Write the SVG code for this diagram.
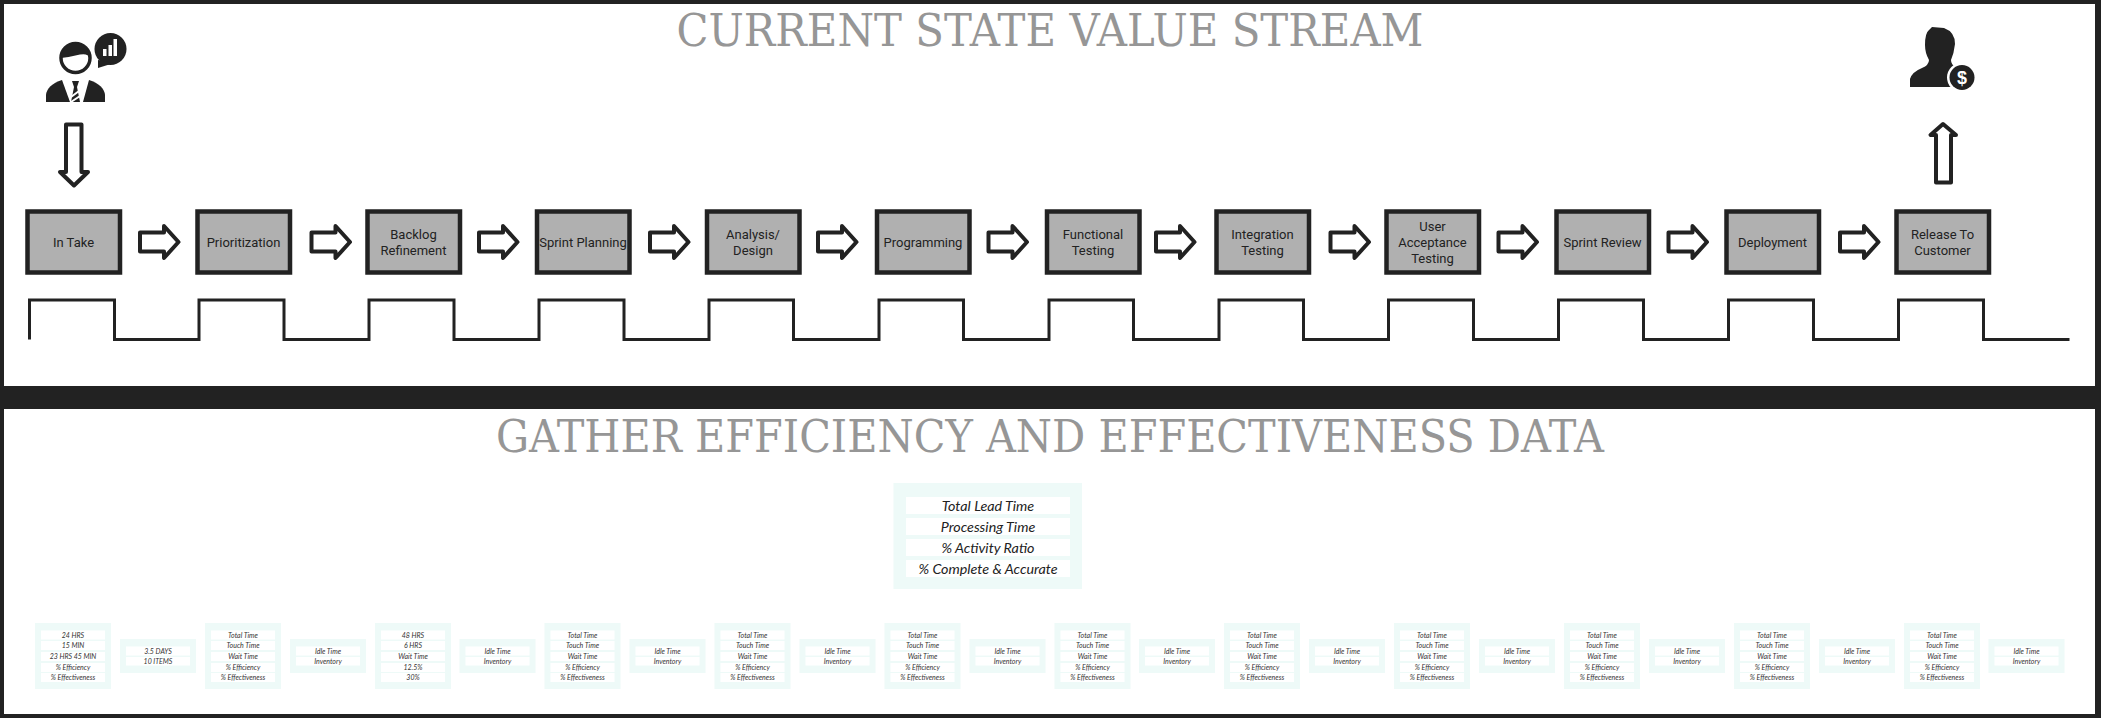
<svg xmlns="http://www.w3.org/2000/svg" width="2101" height="718" viewBox="0 0 2101 718">
<style>
.t{font-family:"DejaVu Serif",serif;fill:#969696;text-anchor:middle;font-size:44px}
.b{fill:#b0b0b0;stroke:#222;stroke-width:4.5}
.l{font-family:Roboto,"Open Sans",sans-serif;font-size:13px;fill:#222;text-anchor:middle}
.c{fill:#eefaf8}.r{fill:#fff}
.m{font-family:Lato,"Open Sans",sans-serif;font-style:italic;font-size:7px;fill:#333;text-anchor:middle}
.n{font-family:Lato,"Open Sans",sans-serif;font-style:italic;font-size:14.3px;fill:#222;text-anchor:middle}
.a{fill:#fff;stroke:#222;stroke-width:4;stroke-linejoin:round}
.k{fill:#222}
</style>
<defs>
<path id="ra" class="a" d="M0,6.5H24V0L38.5,16L24,32V25.500H0Z"/>
<g id="five"><rect class="c" width="76" height="66"/><rect class="r" x="6" y="7.500" width="64" height="9"/><rect class="r" x="6" y="18" width="64" height="9"/><rect class="r" x="6" y="29" width="64" height="9"/><rect class="r" x="6" y="40" width="64" height="9"/><rect class="r" x="6" y="50" width="64" height="9"/></g>
<g id="two"><rect class="c" width="76" height="34"/><rect class="r" x="6" y="7.500" width="64" height="9"/><rect class="r" x="6" y="18" width="64" height="8.500"/></g>
</defs>
<rect width="2101" height="718" fill="#222"/>
<rect x="4" y="4" width="2091" height="382" fill="#fff"/>
<rect x="4" y="409" width="2091" height="305" fill="#fff"/>
<text id="title-current" class="t" x="1050" y="46" textLength="747" lengthAdjust="spacingAndGlyphs">CURRENT STATE VALUE STREAM</text>
<text id="title-gather" class="t" x="1050" y="452" textLength="1108" lengthAdjust="spacingAndGlyphs">GATHER EFFICIENCY AND EFFECTIVENESS DATA</text>

<g id="icon-manager">
<circle cx="110.500" cy="49" r="16" class="k"/><path class="k" d="M98,60L98,68L114,63Z"/>
<rect x="103" y="49" width="3.500" height="7" fill="#fff"/><rect x="108.500" y="45" width="3.500" height="11" fill="#fff"/><rect x="113.500" y="39" width="3.500" height="17" fill="#fff"/>
<circle cx="75.500" cy="58" r="14.500" fill="#fff" stroke="#222" stroke-width="3.500"/>
<path class="k" d="M61,58A14.500,14.500 0 0 1 90,58Q88,53 80,54.500Q70,57 61,58Z"/>
<path class="k" d="M46,102V95Q47,85 62,80L70,102Z"/><path class="k" d="M105,102V95Q104,85 89,80L83,102Z"/>
<path class="k" d="M72,81H79L77,87L80,102H71L74,87Z"/>
<path d="M71,97L79,91M71,102L80,96" stroke="#fff" stroke-width="2"/>
</g>
<g id="icon-customer">
<path class="k" d="M1910,87V79Q1912,72 1922,68Q1929,65 1929,60Q1925,53 1925,45Q1925,33 1929,30L1932,27L1944,28Q1955,32 1955,44Q1954,53 1951,60Q1951,65 1956,67L1968,72L1968,87Z"/>
<circle cx="1962" cy="77.500" r="15" fill="#fff"/><circle cx="1962" cy="77.500" r="12.500" class="k"/>
<text x="1962" y="84" font-family="Liberation Sans,sans-serif" font-weight="bold" font-size="18" fill="#fff" text-anchor="middle">$</text>
</g>

<g id="connectors">
<path id="arrow-in" class="a" d="M66,124.500H81.500V172H88L74,185.500L60,172H66Z"/>
<path id="arrow-out" class="a" d="M1936,182.500H1951V135H1956L1943,124L1930.500,135H1936Z"/>
<use href="#ra" x="140" y="226"/><use href="#ra" x="311.500" y="226"/><use href="#ra" x="479" y="226"/><use href="#ra" x="650" y="226"/><use href="#ra" x="818" y="226"/><use href="#ra" x="988.500" y="226"/><use href="#ra" x="1156" y="226"/><use href="#ra" x="1330.500" y="226"/><use href="#ra" x="1498.500" y="226"/><use href="#ra" x="1668.500" y="226"/><use href="#ra" x="1840" y="226"/>
<path id="timeline" fill="none" stroke="#222" stroke-width="3" d="M29.500,339.500V300H114.500V339.500H199V300H284V339.500H369V300H454V339.500H539V300H624V339.500H709V300H793.500V339.500H879V300H963.500V339.500H1049V300H1133.500V339.500H1219V300H1303.500V339.500H1388.500V300H1473.500V339.500H1558.500V300H1643.500V339.500H1728.500V300H1813.500V339.500H1898.500V300H1983.500V339.500H2069.500"/>
</g>

<g id="p1"><rect class="b" x="27.500" y="211.500" width="92.500" height="61"/><text class="l" x="73.500" y="247">In Take</text></g>
<g id="p2"><rect class="b" x="197.500" y="211.500" width="92.500" height="61"/><text class="l" x="243.500" y="247">Prioritization</text></g>
<g id="p3"><rect class="b" x="367.500" y="211.500" width="92.500" height="61"/><text class="l" x="413.500" y="239">Backlog</text><text class="l" x="413.500" y="255">Refinement</text></g>
<g id="p4"><rect class="b" x="537" y="211.500" width="92.500" height="61"/><text class="l" x="583" y="247">Sprint Planning</text></g>
<g id="p5"><rect class="b" x="707" y="211.500" width="92.500" height="61"/><text class="l" x="753" y="239">Analysis/</text><text class="l" x="753" y="255">Design</text></g>
<g id="p6"><rect class="b" x="877" y="211.500" width="92.500" height="61"/><text class="l" x="923" y="247">Programming</text></g>
<g id="p7"><rect class="b" x="1047" y="211.500" width="92.500" height="61"/><text class="l" x="1093" y="239">Functional</text><text class="l" x="1093" y="255">Testing</text></g>
<g id="p8"><rect class="b" x="1216.500" y="211.500" width="92.500" height="61"/><text class="l" x="1262.500" y="239">Integration</text><text class="l" x="1262.500" y="255">Testing</text></g>
<g id="p9"><rect class="b" x="1386.500" y="211.500" width="92.500" height="61"/><text class="l" x="1432.500" y="231">User</text><text class="l" x="1432.500" y="247">Acceptance</text><text class="l" x="1432.500" y="263">Testing</text></g>
<g id="p10"><rect class="b" x="1556.500" y="211.500" width="92.500" height="61"/><text class="l" x="1602.500" y="247">Sprint Review</text></g>
<g id="p11"><rect class="b" x="1726.500" y="211.500" width="92.500" height="61"/><text class="l" x="1772.500" y="247">Deployment</text></g>
<g id="p12"><rect class="b" x="1896.500" y="211.500" width="92.500" height="61"/><text class="l" x="1942.500" y="239">Release To</text><text class="l" x="1942.500" y="255">Customer</text></g>

<g id="summary"><rect class="c" x="893.500" y="483" width="188.500" height="106"/>
<rect class="r" x="906" y="497" width="164" height="17"/><rect class="r" x="906" y="518" width="164" height="17"/><rect class="r" x="906" y="539" width="164" height="17"/><rect class="r" x="906" y="560" width="164" height="17"/>
<text class="n" x="988" y="511">Total Lead Time</text><text class="n" x="988" y="532">Processing Time</text><text class="n" x="988" y="553">% Activity Ratio</text><text class="n" x="988" y="574">% Complete &amp; Accurate</text></g>

<g id="d1"><use href="#five" x="35" y="623"/><text class="m" x="73" y="637.500">24 HRS</text><text class="m" x="73" y="647.500">15 MIN</text><text class="m" x="73" y="658.500">23 HRS 45 MIN</text><text class="m" x="73" y="669.500">% Efficiency</text><text class="m" x="73" y="679.500">% Effectiveness</text></g>
<g id="i1"><use href="#two" x="120" y="639"/><text class="m" x="158" y="653.500">3.5 DAYS</text><text class="m" x="158" y="663.500">10 ITEMS</text></g>
<g id="d2"><use href="#five" x="205" y="623"/><text class="m" x="243" y="637.500">Total Time</text><text class="m" x="243" y="647.500">Touch Time</text><text class="m" x="243" y="658.500">Wait Time</text><text class="m" x="243" y="669.500">% Efficiency</text><text class="m" x="243" y="679.500">% Effectiveness</text></g>
<g id="i2"><use href="#two" x="290" y="639"/><text class="m" x="328" y="653.500">Idle Time</text><text class="m" x="328" y="663.500">Inventory</text></g>
<g id="d3"><use href="#five" x="375" y="623"/><text class="m" x="413" y="637.500">48 HRS</text><text class="m" x="413" y="647.500">6 HRS</text><text class="m" x="413" y="658.500">Wait Time</text><text class="m" x="413" y="669.500">12.5%</text><text class="m" x="413" y="679.500">30%</text></g>
<g id="i3"><use href="#two" x="459.500" y="639"/><text class="m" x="497.500" y="653.500">Idle Time</text><text class="m" x="497.500" y="663.500">Inventory</text></g>
<g id="d4"><use href="#five" x="544.500" y="623"/><text class="m" x="582.500" y="637.500">Total Time</text><text class="m" x="582.500" y="647.500">Touch Time</text><text class="m" x="582.500" y="658.500">Wait Time</text><text class="m" x="582.500" y="669.500">% Efficiency</text><text class="m" x="582.500" y="679.500">% Effectiveness</text></g>
<g id="i4"><use href="#two" x="629.500" y="639"/><text class="m" x="667.500" y="653.500">Idle Time</text><text class="m" x="667.500" y="663.500">Inventory</text></g>
<g id="d5"><use href="#five" x="714.500" y="623"/><text class="m" x="752.500" y="637.500">Total Time</text><text class="m" x="752.500" y="647.500">Touch Time</text><text class="m" x="752.500" y="658.500">Wait Time</text><text class="m" x="752.500" y="669.500">% Efficiency</text><text class="m" x="752.500" y="679.500">% Effectiveness</text></g>
<g id="i5"><use href="#two" x="799.500" y="639"/><text class="m" x="837.500" y="653.500">Idle Time</text><text class="m" x="837.500" y="663.500">Inventory</text></g>
<g id="d6"><use href="#five" x="884.500" y="623"/><text class="m" x="922.500" y="637.500">Total Time</text><text class="m" x="922.500" y="647.500">Touch Time</text><text class="m" x="922.500" y="658.500">Wait Time</text><text class="m" x="922.500" y="669.500">% Efficiency</text><text class="m" x="922.500" y="679.500">% Effectiveness</text></g>
<g id="i6"><use href="#two" x="969.500" y="639"/><text class="m" x="1007.500" y="653.500">Idle Time</text><text class="m" x="1007.500" y="663.500">Inventory</text></g>
<g id="d7"><use href="#five" x="1054.500" y="623"/><text class="m" x="1092.500" y="637.500">Total Time</text><text class="m" x="1092.500" y="647.500">Touch Time</text><text class="m" x="1092.500" y="658.500">Wait Time</text><text class="m" x="1092.500" y="669.500">% Efficiency</text><text class="m" x="1092.500" y="679.500">% Effectiveness</text></g>
<g id="i7"><use href="#two" x="1139" y="639"/><text class="m" x="1177" y="653.500">Idle Time</text><text class="m" x="1177" y="663.500">Inventory</text></g>
<g id="d8"><use href="#five" x="1224" y="623"/><text class="m" x="1262" y="637.500">Total Time</text><text class="m" x="1262" y="647.500">Touch Time</text><text class="m" x="1262" y="658.500">Wait Time</text><text class="m" x="1262" y="669.500">% Efficiency</text><text class="m" x="1262" y="679.500">% Effectiveness</text></g>
<g id="i8"><use href="#two" x="1309" y="639"/><text class="m" x="1347" y="653.500">Idle Time</text><text class="m" x="1347" y="663.500">Inventory</text></g>
<g id="d9"><use href="#five" x="1394" y="623"/><text class="m" x="1432" y="637.500">Total Time</text><text class="m" x="1432" y="647.500">Touch Time</text><text class="m" x="1432" y="658.500">Wait Time</text><text class="m" x="1432" y="669.500">% Efficiency</text><text class="m" x="1432" y="679.500">% Effectiveness</text></g>
<g id="i9"><use href="#two" x="1479" y="639"/><text class="m" x="1517" y="653.500">Idle Time</text><text class="m" x="1517" y="663.500">Inventory</text></g>
<g id="d10"><use href="#five" x="1564" y="623"/><text class="m" x="1602" y="637.500">Total Time</text><text class="m" x="1602" y="647.500">Touch Time</text><text class="m" x="1602" y="658.500">Wait Time</text><text class="m" x="1602" y="669.500">% Efficiency</text><text class="m" x="1602" y="679.500">% Effectiveness</text></g>
<g id="i10"><use href="#two" x="1649" y="639"/><text class="m" x="1687" y="653.500">Idle Time</text><text class="m" x="1687" y="663.500">Inventory</text></g>
<g id="d11"><use href="#five" x="1734" y="623"/><text class="m" x="1772" y="637.500">Total Time</text><text class="m" x="1772" y="647.500">Touch Time</text><text class="m" x="1772" y="658.500">Wait Time</text><text class="m" x="1772" y="669.500">% Efficiency</text><text class="m" x="1772" y="679.500">% Effectiveness</text></g>
<g id="i11"><use href="#two" x="1819" y="639"/><text class="m" x="1857" y="653.500">Idle Time</text><text class="m" x="1857" y="663.500">Inventory</text></g>
<g id="d12"><use href="#five" x="1904" y="623"/><text class="m" x="1942" y="637.500">Total Time</text><text class="m" x="1942" y="647.500">Touch Time</text><text class="m" x="1942" y="658.500">Wait Time</text><text class="m" x="1942" y="669.500">% Efficiency</text><text class="m" x="1942" y="679.500">% Effectiveness</text></g>
<g id="i12"><use href="#two" x="1988.500" y="639"/><text class="m" x="2026.500" y="653.500">Idle Time</text><text class="m" x="2026.500" y="663.500">Inventory</text></g>
</svg>
